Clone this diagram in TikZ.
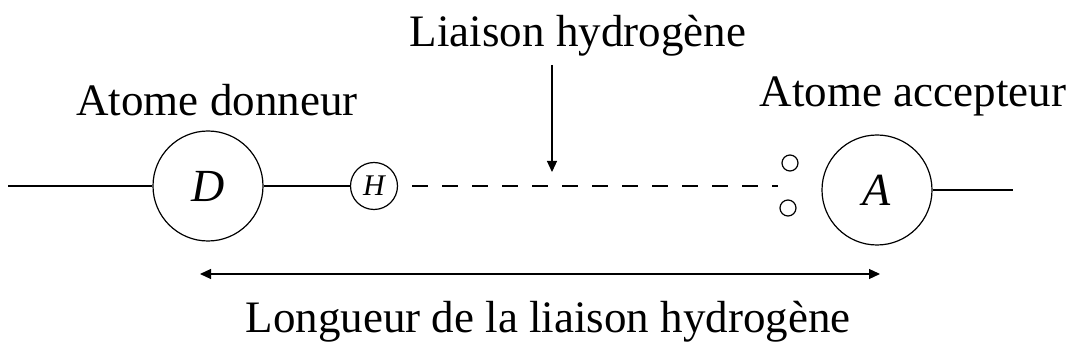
\documentclass[tikz,border=0pt]{standalone}
\usepackage{fontspec}
\setmainfont{Liberation Serif}
\usepackage{tikz}
\usetikzlibrary{arrows.meta}

\begin{document}
\begin{tikzpicture}[x=1pt, y=-1pt, line join=round,
    atome/.style={draw, circle, line width=1.2pt, inner sep=0pt, font=\fontsize{46}{50}\selectfont\itshape},
    lien/.style={line width=1.2pt},
    fleche/.style={line width=1.2pt, -{Triangle[length=11pt, width=10pt]}},
    texte/.style={font=\fontsize{45}{48}\selectfont}]
  \useasboundingbox (0,0) rectangle (1072,358);
  % Atomes
  \node[atome, minimum size=110pt] (D) at (208,186) {D};
  \node[atome, minimum size=47pt, font=\fontsize{30}{32}\selectfont\itshape] (H) at (374,186) {H};
  \node[atome, minimum size=110pt] (A) at (877,190) {A};
  % Doublets libres de l'accepteur
  \node[draw, circle, line width=1.2pt, minimum size=16pt, inner sep=0pt] (p1) at (790,163) {};
  \node[draw, circle, line width=1.2pt, minimum size=16pt, inner sep=0pt] (p2) at (788,208) {};
  % Liaisons covalentes
  \coordinate (g) at (8,186);
  \coordinate (d) at (1013,190);
  \draw[lien] (g) -- (D);
  \draw[lien] (D) -- (H);
  \draw[lien] (A.east) -- (d);
  % Liaison hydrogene (en tirets)
  \coordinate (f) at (778,186);
  \draw[lien, dash pattern=on 16pt off 14pt] (H.east) ++(14,0) -- (f);
  % Textes
  \node[texte] (lh) at (578,36) {Liaison hydrogène};
  \node[texte] (don) at (217,100) {Atome donneur};
  \node[texte] (acc) at (913,96) {Atome accepteur};
  \node[texte] (lg) at (548,322) {Longueur de la liaison hydrogène};
  % Fleche vers la liaison
  \coordinate (c) at (552,172);
  \draw[fleche] (552,65) -- (c);
  % Longueur D...A
  \coordinate (l1) at (200,274);
  \coordinate (l2) at (880,274);
  \draw[fleche, {Triangle[length=11pt, width=10pt]}-{Triangle[length=11pt, width=10pt]}] (l1) -- (l2);
\end{tikzpicture}
\end{document}
